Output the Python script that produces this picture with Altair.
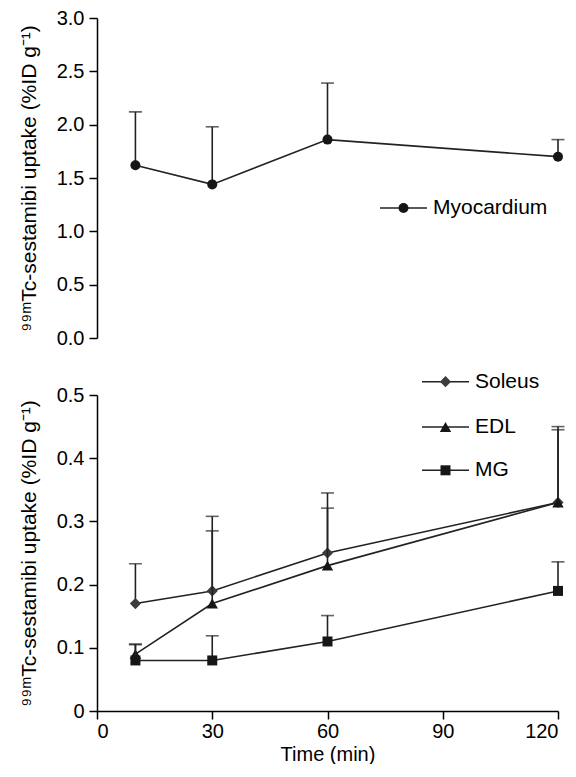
import altair as alt
import pandas as pd

FONT = "Liberation Sans"

time_min = [10, 30, 60, 120]

myo_mean = [1.62, 1.44, 1.86, 1.70]
myo_sd = [0.50, 0.54, 0.53, 0.16]

soleus_mean = [0.17, 0.19, 0.25, 0.33]
soleus_sd = [0.063, 0.118, 0.095, 0.12]
edl_mean = [0.09, 0.17, 0.23, 0.33]
edl_sd = [0.016, 0.115, 0.091, 0.115]
mg_mean = [0.08, 0.08, 0.11, 0.19]
mg_sd = [0.025, 0.039, 0.041, 0.046]

x_ticks = [0, 30, 60, 90, 120]
top_ticks = [0.0, 0.5, 1.0, 1.5, 2.0, 2.5, 3.0]
bottom_ticks = [0, 0.1, 0.2, 0.3, 0.4, 0.5]

y_title = "⁹⁹ᵐTc-sestamibi uptake (%ID g⁻¹)"

LINE = "#222222"


def frame(name, mean, sd):
    return pd.DataFrame({
        "series": name,
        "time": time_min,
        "mean": mean,
        "top": [m + s for m, s in zip(mean, sd)],
    })


myo_df = frame("Myocardium", myo_mean, myo_sd)
muscle_series = [
    ("Soleus", soleus_mean, soleus_sd, "diamond", "#3c3c3c", 125),
    ("EDL", edl_mean, edl_sd, "triangle-up", "#161616", 130),
    ("MG", mg_mean, mg_sd, "square", "#161616", 100),
]

x_scale = alt.Scale(domain=[0, 120], nice=False, zero=False)


def series_layers(df, shape, color, size, y_scale):
    base = alt.Chart(df)
    x = alt.X("time:Q", scale=x_scale)
    err = base.mark_rule(color=LINE, strokeWidth=1.6).encode(
        x=x, y=alt.Y("mean:Q", scale=y_scale), y2="top:Q")
    cap = base.mark_tick(orient="horizontal", size=13, thickness=1.6, color=LINE).encode(
        x=x, y=alt.Y("top:Q", scale=y_scale))
    line = base.mark_line(color=LINE, strokeWidth=1.6).encode(
        x=x, y=alt.Y("mean:Q", scale=y_scale))
    pts = base.mark_point(shape=shape, filled=True, opacity=1, color=color, size=size).encode(
        x=x, y=alt.Y("mean:Q", scale=y_scale))
    return [err, cap, line, pts]


def legend_entry(label, shape, color, size, x0, y0):
    d = alt.Data(values=[{"label": label}])
    rule = alt.Chart(d).mark_rule(color=LINE, strokeWidth=1.6).encode(
        x=alt.value(x0), x2=alt.value(x0 + 47), y=alt.value(y0))
    pt = alt.Chart(d).mark_point(shape=shape, filled=True, opacity=1, color=color, size=size).encode(
        x=alt.value(x0 + 23.5), y=alt.value(y0))
    txt = alt.Chart(d).mark_text(align="left", baseline="middle", font=FONT, fontSize=21,
                                 color="black").encode(
        x=alt.value(x0 + 53), y=alt.value(y0), text="label:N")
    return [rule, pt, txt]


W = 461

# ---- top panel ----
top_scale = alt.Scale(domain=[0, 3.0], nice=False)
top_layers = series_layers(myo_df, "circle", "#161616", 100, top_scale)
top_layers[0] = top_layers[0].encode(
    x=alt.X("time:Q", scale=x_scale, axis=None),
    y=alt.Y("mean:Q", scale=top_scale,
            axis=alt.Axis(values=top_ticks, format=".1f", title=y_title)),
    y2="top:Q")
top_layers += legend_entry("Myocardium", "circle", "#161616", 100, 283, 190)
top = alt.layer(*top_layers).properties(width=W, height=320)

# ---- bottom panel ----
bot_scale = alt.Scale(domain=[0, 0.5], nice=False)
bot_layers = []
for name, mean, sd, shape, color, size in muscle_series:
    bot_layers += series_layers(frame(name, mean, sd), shape, color, size, bot_scale)
bot_layers[0] = bot_layers[0].encode(
    x=alt.X("time:Q", scale=x_scale,
            axis=alt.Axis(values=x_ticks, title="Time (min)", titlePadding=3,
                          labelPadding=2, titleFontSize=20)),
    y=alt.Y("mean:Q", scale=bot_scale,
            axis=alt.Axis(values=bottom_ticks, format=".1~f", title=y_title)),
    y2="top:Q")
legend_y = [-13.3, 32, 75.3]
for (name, mean, sd, shape, color, size), ly in zip(muscle_series, legend_y):
    bot_layers += legend_entry(name, shape, color, size, 325, ly)
bottom = alt.layer(*bot_layers).properties(width=W, height=316)

chart = alt.vconcat(top, bottom, spacing=22).properties(
    padding={"left": 10, "top": 0, "right": 0, "bottom": 0}
).configure_view(stroke=None).configure_axis(
    grid=False,
    domainColor="black", domainWidth=1.5,
    tickColor="black", tickWidth=1.5, tickSize=8,
    labelFont=FONT, labelFontSize=20, labelColor="black", labelPadding=5,
    titleFont=FONT, titleFontSize=21, titleColor="black", titleFontWeight="normal",
    titlePadding=17,
)

chart.save("out.html", embed_options={"renderer": "svg", "actions": False})
